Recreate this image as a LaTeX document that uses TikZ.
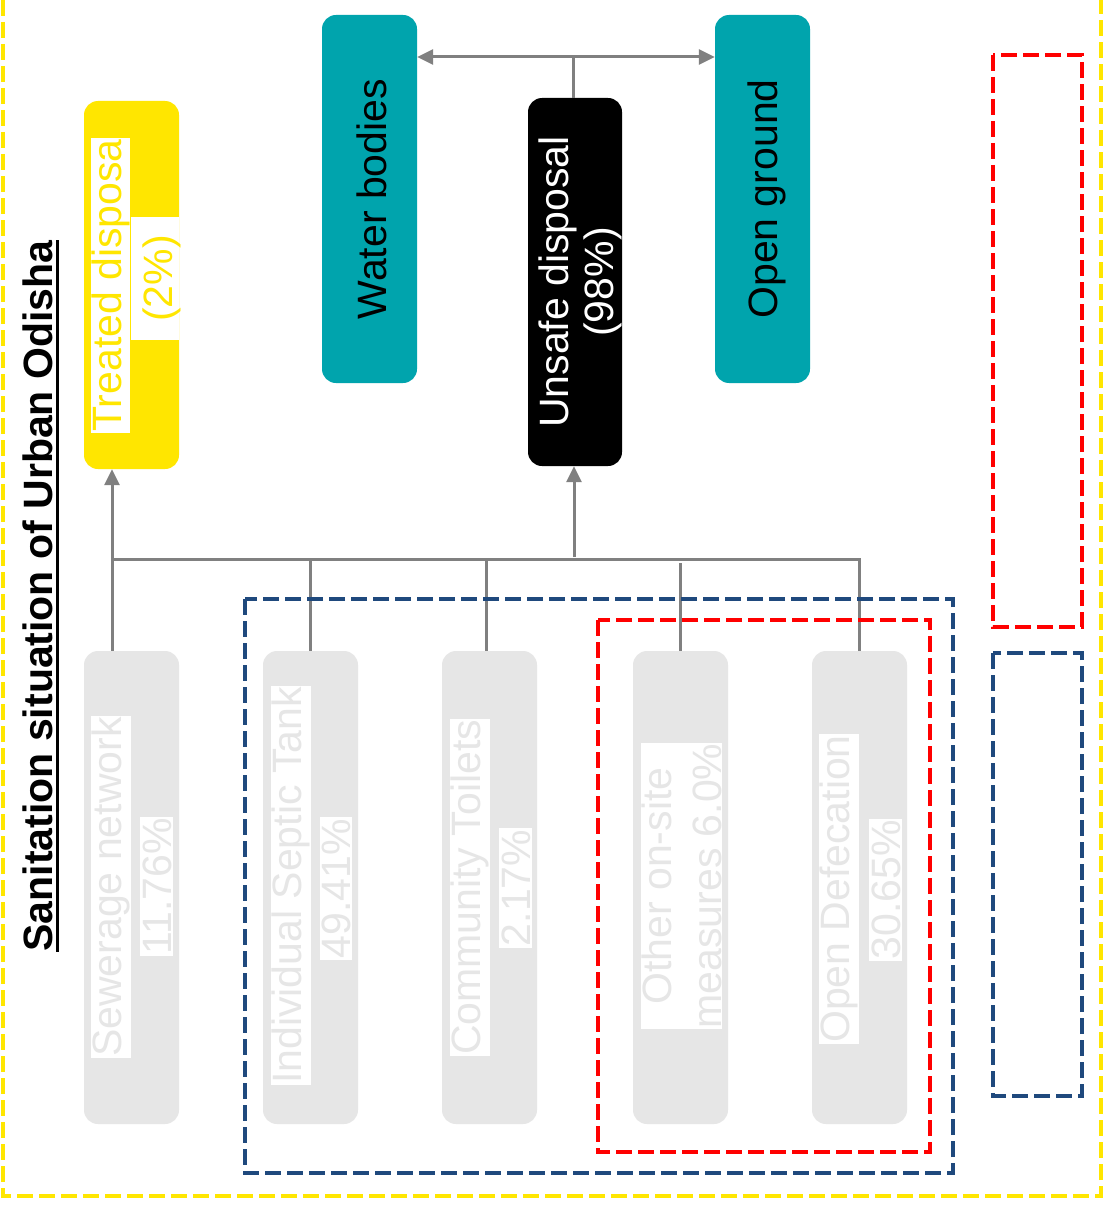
\documentclass[tikz,border=0pt]{standalone}
\usepackage{fontspec}
\setmainfont{Liberation Sans}
\usetikzlibrary{arrows.meta}
\definecolor{ylw}{RGB}{255,230,0}
\definecolor{teal1}{RGB}{0,164,173}
\definecolor{lgray}{RGB}{230,230,230}
\definecolor{conngray}{RGB}{128,128,128}
\definecolor{dblue}{RGB}{31,73,125}
\begin{document}
\begin{tikzpicture}[x=1pt,y=-1pt,
  box/.style={rectangle, rounded corners=14pt, inner sep=0pt, minimum width=95pt},
  boxtop/.style={box, minimum height=368pt},
  boxlow/.style={box, minimum height=473pt, fill=lgray},
  bigfont/.style={font=\fontsize{41pt}{47pt}\selectfont},
  hl/.style={bigfont, rotate=90, fill=white, inner xsep=1.5pt, inner ysep=0pt, text height=30.5pt, text depth=9pt},
  hlnum/.style={hl, text height=31pt, text depth=1.5pt},
  plain/.style={bigfont, rotate=90, inner sep=0pt},
  conn/.style={draw=conngray, line width=3pt},
  tip/.style={-{Triangle[length=16pt,width=15pt]}},
  twotip/.style={{Triangle[length=16pt,width=15pt]}-{Triangle[length=16pt,width=15pt]}},
  dashframe/.style={dash pattern=on 16pt off 6pt},
]
\useasboundingbox (0,0) rectangle (1103,1209);
\fill[white] (0,0) rectangle (1103,1209);

% boxes
\node[boxtop, fill=ylw] (treat) at (131.5,285) {};
\node[boxtop, fill=teal1] (wat) at (369.5,199) {};
\node[boxtop, fill=teal1] (opg) at (762.5,199) {};
\node[boxtop, fill=black, minimum width=94pt] (uns) at (575,282) {};
\node[boxlow] (sew) at (131.5,887.5) {};
\node[boxlow] (sep) at (310.5,887.5) {};
\node[boxlow] (com) at (489.5,887.5) {};
\node[boxlow] (oth) at (680.5,887.5) {};
\node[boxlow] (odf) at (859.5,887.5) {};

% texts
\node[hl, text=ylw] (t1) at (110.5,285.5) {Treated disposa};
\node[bigfont, rotate=90, fill=white, text=ylw, inner sep=0pt, minimum width=123pt, text height=41pt, text depth=7pt] (t2) at (155,278.5) {(2\%)};
\node[plain, text=black] (wattext) at (372,199) {Water bodies};
\node[plain, text=black] (opgtext) at (767,199) {Open ground};
\node[rotate=90, inner sep=0pt, align=center, text=white, font=\fontsize{41pt}{45pt}\selectfont] (unstext) at (580,282) {Unsafe disposal\\(98\%)};

\node[hl, text=lgray] (s1) at (111,887) {Sewerage network};
\node[hlnum, text=lgray] (s2) at (156.5,886.5) {11.76\%};
\node[hl, text=lgray] (p1) at (291,885.5) {Individual Septic Tank};
\node[hlnum, text=lgray] (p2) at (336,888.5) {49.41\%};
\node[hl, text=lgray] (c1) at (470,887.5) {Community Toilets};
\node[hlnum, text=lgray] (c2) at (515.5,888) {2.17\%};
\node[rotate=90, fill=white, text=lgray, inner sep=0.5pt, align=center, font=\fontsize{41pt}{50pt}\selectfont] (o1) at (681.5,886) {Other on-site\\measures 6.0\%};
\node[hl, text=lgray] (d1) at (839,889) {Open Defecation};
\node[hlnum, text=lgray] (d2) at (885.5,890) {30.65\%};

% title
\node[rotate=90, anchor=base, inner sep=0pt, font=\bfseries\fontsize{41pt}{47pt}\selectfont] (title) at (52,596) {Sanitation situation of Urban Odisha};
\draw[line width=3pt] ([xshift=5pt]title.base west) -- ([xshift=5pt]title.base east);

% connectors
\coordinate (jl) at (112,559);
\coordinate (jr) at (861,559);
\coordinate (jc) at (486,559);
\coordinate (ju) at (574,557);
\coordinate (jo) at (680,563);
\coordinate (jt) at (573,57);
\draw[conn] (jl) -- (jr);
\draw[conn, tip] (sew.north -| jl) -- (treat.south -| jl);
\draw[conn] (sep.north) -- (sep.north |- jl);
\draw[conn] (com.north -| jc) -- (jc);
\draw[conn] (oth.north -| jo) -- (jo);
\draw[conn] (odf.north) -- (odf.north |- jl);
\draw[conn, tip] (ju) -- (uns.south -| ju);
\draw[conn] (uns.north -| jt) -- (jt);
\draw[conn, twotip] (wat.east |- jt) -- (opg.west |- jt);

% dashed frames
\draw[ylw, line width=3.5pt, dashframe] (3,0) -- (3,1196) -- (1101,1196) -- (1101,0);
\draw[dblue, line width=4pt, dashframe] (245,599) rectangle (953,1173);
\draw[red, line width=4.5pt, dashframe] (598,620) rectangle (930,1152);
\draw[red, line width=4.5pt, dashframe] (993,55) rectangle (1082,627);
\draw[dblue, line width=4pt, dashframe] (993,653) rectangle (1082,1096);
\end{tikzpicture}
\end{document}
